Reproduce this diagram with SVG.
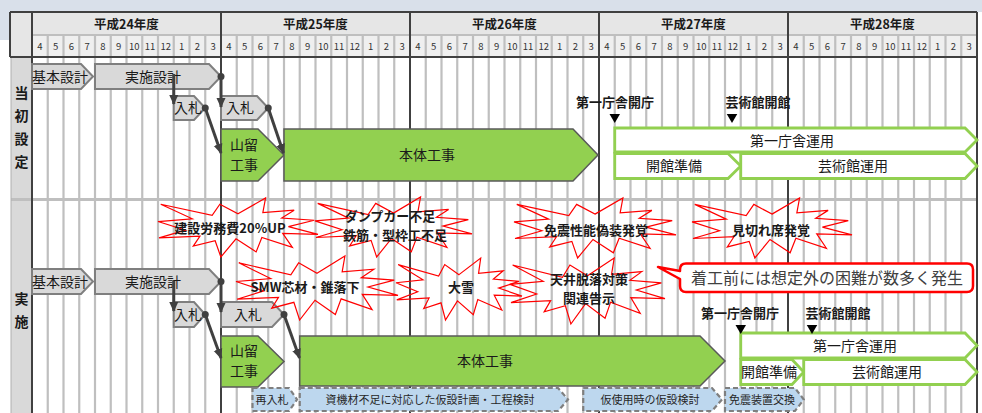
<svg xmlns="http://www.w3.org/2000/svg" xmlns:xlink="http://www.w3.org/1999/xlink" width="982" height="413" viewBox="0 0 982 413">
<style>
text{font-family:"Noto Sans CJK JP","Noto Sans",sans-serif;fill:#1a1a1a}
.yr{font-size:12.5px;font-weight:bold;text-anchor:middle}
.mo{font-size:9.5px;text-anchor:middle;fill:#333}
.side{font-size:14px;font-weight:bold;text-anchor:middle}
.t14{font-size:14px}
.c{text-anchor:middle}
.gbox{fill:#d9d9d9;stroke:#7f7f7f;stroke-width:2}
.green{fill:#92d050;stroke:#595959;stroke-width:1.5}
.gout{fill:#fff;stroke:#92d050;stroke-width:2.8}
.blue{fill:#bdd7ee;stroke:#7f7f7f;stroke-width:2.2;stroke-dasharray:5 3}
.bt{font-size:11px;text-anchor:middle;fill:#262626}
.bst{font-size:13px;font-weight:bold;text-anchor:middle}
.ms{font-size:13px;font-weight:bold;text-anchor:middle}
.arr{fill:none;stroke:#404040;stroke-width:3;marker-end:url(#ah)}
.dot{fill:#404040}
.tri{fill:#000}
</style>
<defs>
<marker id="ah" markerUnits="userSpaceOnUse" markerWidth="10" markerHeight="10" viewBox="0 0 10 10" refX="9" refY="5" orient="auto">
<path d="M0,0.5 L10,5 L0,9.5 Z" fill="#404040"/>
</marker>
<path id="burst" fill="none" stroke="#ff0000" stroke-width="1.2" vector-effect="non-scaling-stroke" d="M50,26.85 L67.23,0 L65.53,24.65 L85.09,20.63 L77.32,33.87 L97.67,37.67 L81.51,48.5 L100,61.53 L77.95,59.92 L84,83.77 L64.91,66.93 L61.33,91.38 L48.76,69.14 L39.28,100 L35.72,72.35 L22.05,81.56 L26.24,64.52 L0.63,67.53 L17.23,54.51 L0,39.88 L21.42,35.26 L1.71,10.63 L33.85,29.26 L38.67,10.63 Z"/>
</defs>

<!-- background -->
<g id="background">
<rect x="0" y="0" width="982" height="413" fill="#fff"/>
<rect x="0" y="0" width="982" height="12" fill="#d9e0ea"/>
<rect x="0" y="0" width="10" height="40" fill="#d9e0ea"/>
<rect x="10" y="12" width="967" height="23" fill="#e6e6e6"/>
<rect x="32" y="35" width="945" height="22" fill="#efefef"/>
<rect x="10" y="12" width="22" height="45" fill="#e6e6e6"/>
<rect x="11" y="57" width="21" height="356" fill="#d9d9d9"/>
</g>

<!-- grid -->
<g id="grid">
<path fill="none" stroke="#bfbfbf" stroke-width="2.2" d="M47.75 35V413M63.5 35V413M79.25 35V413M95 35V413M110.75 35V413M126.5 35V413M142.25 35V413M158 35V413M173.75 35V413M189.5 35V413M205.25 35V413M236.75 35V413M252.5 35V413M268.25 35V413M284 35V413M299.75 35V413M315.5 35V413M331.25 35V413M347 35V413M362.75 35V413M378.5 35V413M394.25 35V413M425.75 35V413M441.5 35V413M457.25 35V413M473 35V413M488.75 35V413M504.5 35V413M520.25 35V413M536 35V413M551.75 35V413M567.5 35V413M583.25 35V413M614.75 35V413M630.5 35V413M646.25 35V413M662 35V413M677.75 35V413M693.5 35V413M709.25 35V413M725 35V413M740.75 35V413M756.5 35V413M772.25 35V413M803.75 35V413M819.5 35V413M835.25 35V413M851 35V413M866.75 35V413M882.5 35V413M898.25 35V413M914 35V413M929.75 35V413M945.5 35V413M961.25 35V413"/>
<path fill="none" stroke="#bfbfbf" stroke-width="2" d="M32 35H977"/>
<path fill="none" stroke="#bfbfbf" stroke-width="3" d="M11 199.5H977"/>
<path fill="none" stroke="#b0b0b0" stroke-width="1" d="M11 57V413"/>
<path fill="none" stroke="#404040" stroke-width="2" d="M10 12H977M10 57H977M32 12V413M221 12V413M410 12V413M599 12V413M788 12V413M977 12V413M10 12V57"/>
</g>

<!-- header text -->
<g id="years">
<text class="yr" x="126.5" y="28.5">平成24年度</text>
<text class="yr" x="315.5" y="28.5">平成25年度</text>
<text class="yr" x="504.5" y="28.5">平成26年度</text>
<text class="yr" x="693.5" y="28.5">平成27年度</text>
<text class="yr" x="882.5" y="28.5">平成28年度</text>
</g>
<g id="months" class="mo">
<text class="mo" x="39.88" y="50">4</text><text class="mo" x="55.63" y="50">5</text><text class="mo" x="71.38" y="50">6</text><text class="mo" x="87.13" y="50">7</text><text class="mo" x="102.88" y="50">8</text><text class="mo" x="118.63" y="50">9</text><text class="mo" x="134.38" y="50">10</text><text class="mo" x="150.13" y="50">11</text><text class="mo" x="165.88" y="50">12</text><text class="mo" x="181.63" y="50">1</text><text class="mo" x="197.38" y="50">2</text><text class="mo" x="213.13" y="50">3</text>
<text class="mo" x="228.88" y="50">4</text><text class="mo" x="244.63" y="50">5</text><text class="mo" x="260.38" y="50">6</text><text class="mo" x="276.13" y="50">7</text><text class="mo" x="291.88" y="50">8</text><text class="mo" x="307.63" y="50">9</text><text class="mo" x="323.38" y="50">10</text><text class="mo" x="339.13" y="50">11</text><text class="mo" x="354.88" y="50">12</text><text class="mo" x="370.63" y="50">1</text><text class="mo" x="386.38" y="50">2</text><text class="mo" x="402.13" y="50">3</text>
<text class="mo" x="417.88" y="50">4</text><text class="mo" x="433.63" y="50">5</text><text class="mo" x="449.38" y="50">6</text><text class="mo" x="465.13" y="50">7</text><text class="mo" x="480.88" y="50">8</text><text class="mo" x="496.63" y="50">9</text><text class="mo" x="512.38" y="50">10</text><text class="mo" x="528.13" y="50">11</text><text class="mo" x="543.88" y="50">12</text><text class="mo" x="559.63" y="50">1</text><text class="mo" x="575.38" y="50">2</text><text class="mo" x="591.13" y="50">3</text>
<text class="mo" x="606.88" y="50">4</text><text class="mo" x="622.63" y="50">5</text><text class="mo" x="638.38" y="50">6</text><text class="mo" x="654.13" y="50">7</text><text class="mo" x="669.88" y="50">8</text><text class="mo" x="685.63" y="50">9</text><text class="mo" x="701.38" y="50">10</text><text class="mo" x="717.13" y="50">11</text><text class="mo" x="732.88" y="50">12</text><text class="mo" x="748.63" y="50">1</text><text class="mo" x="764.38" y="50">2</text><text class="mo" x="780.13" y="50">3</text>
<text class="mo" x="795.88" y="50">4</text><text class="mo" x="811.63" y="50">5</text><text class="mo" x="827.38" y="50">6</text><text class="mo" x="843.13" y="50">7</text><text class="mo" x="858.88" y="50">8</text><text class="mo" x="874.63" y="50">9</text><text class="mo" x="890.38" y="50">10</text><text class="mo" x="906.13" y="50">11</text><text class="mo" x="921.88" y="50">12</text><text class="mo" x="937.63" y="50">1</text><text class="mo" x="953.38" y="50">2</text><text class="mo" x="969.13" y="50">3</text>
</g>
<g id="side-labels">
<text class="side" x="21.5" y="98">当</text>
<text class="side" x="21.5" y="121">初</text>
<text class="side" x="21.5" y="144">設</text>
<text class="side" x="21.5" y="167">定</text>
<text class="side" x="21.5" y="304">実</text>
<text class="side" x="21.5" y="327">施</text>
</g>

<!-- planned (当初設定) -->
<g id="plan-kihon"><path class="gbox" d="M32,64 H81 L93,76.5 L81,89 H32 Z"/><text class="t14" x="32" y="81.5">基本設計</text></g>
<g id="plan-jisshi"><path class="gbox" d="M95,64 H209 L221,76.5 L209,89 H95 Z"/><text class="t14 c" x="153" y="81.5">実施設計</text></g>
<g id="plan-nyusatsu1"><path class="gbox" d="M173.75,96 H194 L205.25,108 L194,120 H173.75 Z"/><text class="t14" x="174" y="113">入札</text></g>
<g id="plan-nyusatsu2"><path class="gbox" d="M221,96 H257 L268.25,108 L257,120 H221 Z"/><text class="t14" x="226" y="113">入札</text></g>
<g id="plan-yamadome"><path class="green" d="M221,129 H258 L284,155 L258,181 H221 Z"/><text class="t14" x="230" y="150">山留</text><text class="t14" x="230" y="170">工事</text></g>
<g id="plan-hontai"><path class="green" d="M284,129 H573 L598,155 L573,181 H284 Z"/><text class="t14 c" x="427" y="160">本体工事</text></g>
<g id="plan-unyo1"><path class="gout" d="M614.75,128 H965 L977,140 L965,152 H614.75 Z"/><text class="t14 c" x="792" y="146">第一庁舎運用</text></g>
<g id="plan-junbi"><path class="gout" d="M614.75,153.5 H728 L740.75,166 L728,178.5 H614.75 Z"/><text class="t14 c" x="674" y="171">開館準備</text></g>
<g id="plan-geijutsu"><path class="gout" d="M740.75,153.5 H965 L977,166 L965,178.5 H740.75 Z"/><text class="t14 c" x="853" y="171">芸術館運用</text></g>
<g id="plan-ms1"><text class="ms" x="615" y="107">第一庁舎開庁</text><path class="tri" d="M609.5,114 H620 L614.75,123 Z"/></g>
<g id="plan-ms2"><text class="ms" x="758" y="107">芸術館開館</text><path class="tri" d="M726.75,114 H737.25 L732,123 Z"/></g>

<!-- actual (実施) -->
<g id="act-kihon"><path class="gbox" d="M32,269 H81 L93,281.5 L81,294 H32 Z"/><text class="t14" x="32" y="286.5">基本設計</text></g>
<g id="act-jisshi"><path class="gbox" d="M95,269 H209 L221,281.5 L209,294 H95 Z"/><text class="t14 c" x="153" y="286.5">実施設計</text></g>
<g id="act-nyusatsu1"><path class="gbox" d="M173.75,302 H194 L205.25,314.5 L194,327 H173.75 Z"/><text class="t14" x="174" y="319.5">入札</text></g>
<g id="act-nyusatsu2"><path class="gbox" d="M221,302 H272 L284,314.5 L272,327 H221 Z"/><text class="t14 c" x="248" y="319.5">入札</text></g>
<g id="act-yamadome"><path class="green" d="M221,336 H258 L284,361.5 L258,387 H221 Z"/><text class="t14" x="230" y="356">山留</text><text class="t14" x="230" y="376">工事</text></g>
<g id="act-hontai"><path class="green" d="M299.75,336 H700 L725,361 L700,386 H299.75 Z"/><text class="t14 c" x="485" y="366">本体工事</text></g>
<g id="act-unyo1"><path class="gout" d="M740.75,333 H965 L977,345.5 L965,358 H740.75 Z"/><text class="t14 c" x="855" y="351">第一庁舎運用</text></g>
<g id="act-junbi"><path class="gout" d="M740.75,359.5 H792 L803.75,372 L792,384.5 H740.75 Z"/><text class="t14" x="741" y="377">開館準備</text></g>
<g id="act-geijutsu"><path class="gout" d="M803.75,359.5 H965 L977,372 L965,384.5 H803.75 Z"/><text class="t14 c" x="887" y="377">芸術館運用</text></g>
<g id="act-ms1"><text class="ms" x="740" y="318">第一庁舎開庁</text><path class="tri" d="M735.5,325 H746 L740.75,334 Z"/></g>
<g id="act-ms2"><text class="ms" x="838" y="318">芸術館開館</text><path class="tri" d="M806.75,325 H817.25 L812,334 Z"/></g>

<g id="act-sainyusatsu"><path class="blue" d="M252.5,388 H289 L297,399.5 L289,411 H252.5 Z"/><text class="bt" x="272" y="403.5">再入札</text></g>
<g id="act-kasetsu"><path class="blue" d="M299.75,388 H558 L568,399.5 L558,411 H299.75 Z"/><text class="bt" x="430" y="403.5">資機材不足に対応した仮設計画・工程検討</text></g>
<g id="act-kashiyo"><path class="blue" d="M583.25,388 H712 L722,399.5 L712,411 H583.25 Z"/><text class="bt" x="650" y="403.5">仮使用時の仮設検討</text></g>
<g id="act-menshin"><path class="blue" d="M725,388 H795 L803.75,399.5 L795,411 H725 Z"/><text class="bt" x="762" y="403.5">免震装置交換</text></g>

<!-- connectors -->
<g id="connectors">
<path class="arr" d="M173.75,74 V104"/>
<path class="arr" d="M221,76.5 V107"/>
<path class="arr" d="M205.25,108 L221,153"/>
<path class="arr" d="M268.25,108 L283.5,153"/>
<path class="arr" d="M173.75,281 V311"/>
<path class="arr" d="M221,281.5 V312"/>
<path class="arr" d="M205.25,314.5 L221,358"/>
<path class="arr" d="M284,314.5 L299.5,358"/>
<circle class="dot" cx="221" cy="76.5" r="3.5"/>
<circle class="dot" cx="205.25" cy="108" r="3.5"/>
<circle class="dot" cx="268.25" cy="108" r="3.5"/>
<circle class="dot" cx="221" cy="281.5" r="3.5"/>
<circle class="dot" cx="205.25" cy="314.5" r="3.5"/>
<circle class="dot" cx="284" cy="314.5" r="3.5"/>
</g>

<!-- starbursts -->
<g id="burst1"><use xlink:href="#burst" transform="translate(158,198) scale(1.6,0.59)"/><text class="bst" x="230" y="233">建設労務費20%UP</text></g>
<g id="burst2"><use xlink:href="#burst" transform="translate(315,197) scale(1.57,0.6)"/><text class="bst" x="390" y="221">ダンプカー不足</text><text class="bst" x="395" y="240">鉄筋・型枠工不足</text></g>
<g id="burst3"><use xlink:href="#burst" transform="translate(514,198) scale(1.62,0.6)"/><text class="bst" x="596" y="235">免震性能偽装発覚</text></g>
<g id="burst4"><use xlink:href="#burst" transform="translate(692,198) scale(1.6,0.6)"/><text class="bst" x="771" y="235">見切れ席発覚</text></g>
<g id="burst5"><use xlink:href="#burst" transform="translate(236,256) scale(1.62,0.64)"/><text class="bst" x="305" y="292">SMW芯材・錐落下</text></g>
<g id="burst6"><use xlink:href="#burst" transform="translate(396,258) scale(1.26,0.62)"/><text class="bst" x="461" y="292">大雪</text></g>
<g id="burst7"><use xlink:href="#burst" transform="translate(510,258) scale(1.55,0.66)"/><text class="bst" x="589" y="284">天井脱落対策</text><text class="bst" x="589" y="303">関連告示</text></g>

<!-- callout -->
<g id="callout">
<path fill="#fff" stroke="#ff0000" stroke-width="2.5" stroke-linejoin="round" d="M686,263.5 H967 Q973,263.5 973,269.5 V286 Q973,292 967,292 H686 Q680,292 680,286 V279 L658,267 L680,271 V269.5 Q680,263.5 686,263.5 Z"/>
<text x="691" y="284" style="font-size:16px;fill:#404040">着工前には想定外の困難が数多く発生</text>
</g>
</svg>
